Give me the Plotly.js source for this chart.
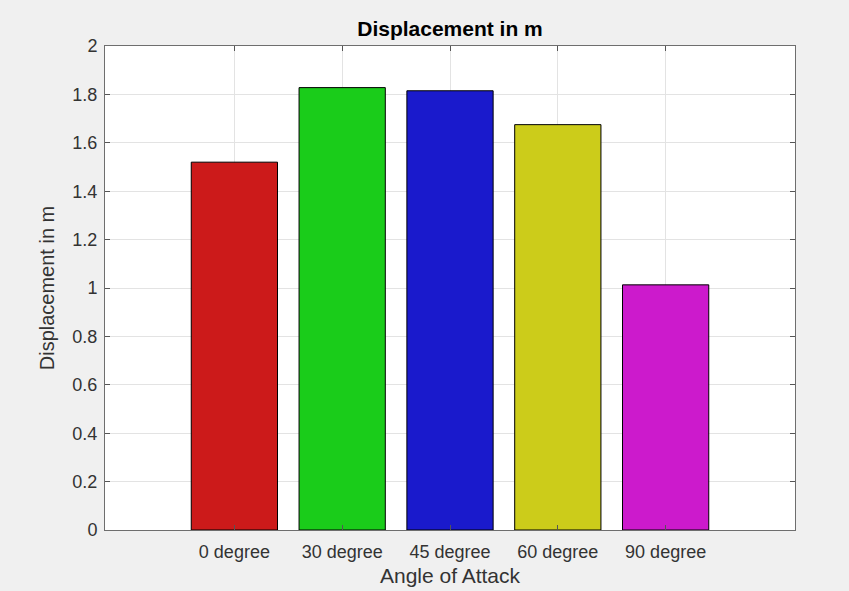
<!DOCTYPE html>
<html>
<head>
<meta charset="utf-8">
<script src="https://cdn.plot.ly/plotly-3.0.1.min.js"></script>
<style>html,body{margin:0;padding:0;background:#f0f0f0;}#chart{width:849px;height:591px;}</style>
</head>
<body>
<div id="chart"></div>
<script>
const categories = ["0 degree", "30 degree", "45 degree", "60 degree", "90 degree"];
const displacement = [1.52, 1.828, 1.815, 1.675, 1.013];
const barColors = ["#cc1a1a", "#1acc1a", "#1a1acc", "#cccc1a", "#cc1acc"];
const yTicks = [0, 0.2, 0.4, 0.6, 0.8, 1, 1.2, 1.4, 1.6, 1.8, 2];
const yTickText = ["0", "0.2", "0.4", "0.6", "0.8", "1", "1.2", "1.4", "1.6", "1.8", "2"];

const trace = {
  type: "bar",
  x: categories,
  y: displacement,
  width: 0.8,
  marker: { color: barColors, line: { color: "#000000", width: 1 } },
  hoverinfo: "x+y"
};

const fontFam = "Liberation Sans, Arial, Helvetica, sans-serif";
const layout = {
  width: 849, height: 591,
  paper_bgcolor: "#f0f0f0",
  plot_bgcolor: "#ffffff",
  margin: { l: 105, r: 54, t: 46, b: 61, pad: 0 },
  showlegend: false,
  title: {
    text: "<b>Displacement in m</b>",
    font: { family: fontFam, size: 21, color: "#000000" },
    x: 0.5, xref: "paper", xanchor: "center",
    y: 1, yref: "paper", yanchor: "bottom", pad: { b: 10 }
  },
  xaxis: {
    type: "category",
    range: [-1.2, 5.2],
    showgrid: true, gridcolor: "#e3e3e3", gridwidth: 1,
    showline: true, linecolor: "#6e6e6e", linewidth: 1, mirror: "ticks",
    ticks: "inside", ticklen: 5, tickcolor: "#555555", tickwidth: 1,
    ticklabelstandoff: 5,
    tickfont: { family: fontFam, size: 18, color: "#333333" },
    title: { text: "Angle of Attack", font: { family: fontFam, size: 21, color: "#333333" }, standoff: 7 },
    zeroline: false, fixedrange: true
  },
  yaxis: {
    range: [0, 2],
    tickvals: yTicks, ticktext: yTickText,
    showgrid: true, gridcolor: "#e3e3e3", gridwidth: 1,
    showline: true, linecolor: "#6e6e6e", linewidth: 1, mirror: "ticks",
    ticks: "inside", ticklen: 5, tickcolor: "#555555", tickwidth: 1,
    ticklabelstandoff: 3,
    tickfont: { family: fontFam, size: 18, color: "#333333" },
    title: { text: "Displacement in m", font: { family: fontFam, size: 20, color: "#333333" }, standoff: 12 },
    zeroline: false, fixedrange: true
  },
  bargap: 0.2
};

Plotly.newPlot("chart", [trace], layout, { staticPlot: true, displayModeBar: false });
</script>
</body>
</html>
